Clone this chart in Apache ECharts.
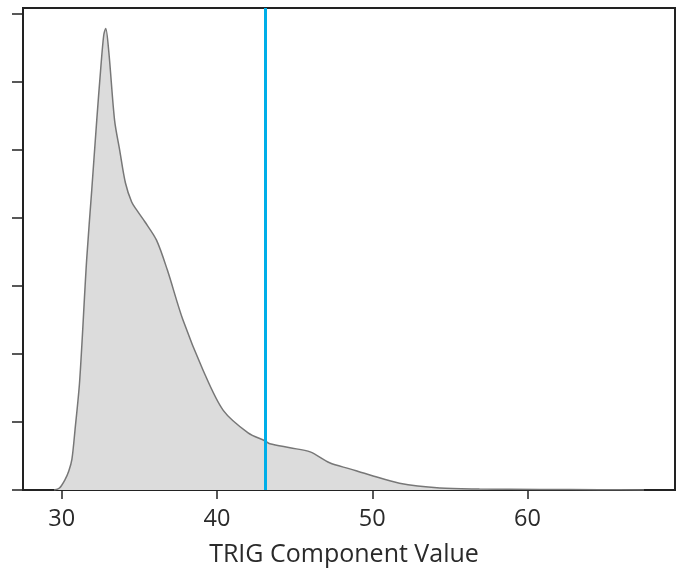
<!DOCTYPE html>
<html>
<head>
<meta charset="utf-8">
<script src="https://cdn.jsdelivr.net/npm/echarts@6/dist/echarts.min.js"></script>
<style>
html,body{margin:0;padding:0;background:#fff;}
#chart{width:696px;height:573px;}
</style>
</head>
<body>
<div id="chart"></div>
<script>
// TRIG component value (x) and density (relative, y)
const xValues = [29.5, 29.85, 30.2, 30.45, 30.65, 30.85, 31.15, 31.6, 31.93, 32.25, 32.5, 32.7, 32.83, 33.03, 33.4, 33.73, 34.1, 34.5, 34.83, 35.35, 36.1, 36.8, 37.8, 39.1, 40.4, 42.0, 43.1, 43.4, 44.7, 46.0, 47.25, 48.55, 49.85, 51.75, 54.35, 56.9, 60.8, 64.6, 67.5];
const densityValues = [0, 0.03, 0.15, 0.28, 0.45, 0.88, 1.6, 3.38, 4.41, 5.43, 6.17, 6.68, 6.78, 6.43, 5.43, 4.99, 4.51, 4.23, 4.11, 3.94, 3.67, 3.23, 2.5, 1.76, 1.17, 0.84, 0.72, 0.68, 0.62, 0.56, 0.4, 0.31, 0.22, 0.1, 0.03, 0.015, 0.008, 0.004, 0];
const xTickValues = [30, 40, 50, 60];
const yTickValues = [0, 1, 2, 3, 4, 5, 6, 7];
const thresholdValue = 43.1;
const xAxisTitle = 'TRIG Component Value';

const chart = echarts.init(document.getElementById('chart'), null, {renderer: 'canvas'});
const seriesData = xValues.map((x, i) => [x, densityValues[i]]);
const font = '"Open Sans", "Noto Sans", sans-serif';

chart.setOption({
  animation: false,
  backgroundColor: '#fff',
  grid: {left: 23, top: 8, right: 21, bottom: 83, show: true, borderColor: '#222', borderWidth: 2, backgroundColor: 'transparent'},
  xAxis: {
    type: 'value', min: 27.5, max: 69.5,
    axisLine: {show: true, onZero: false, lineStyle: {color: '#222', width: 2}},
    axisTick: {show: true, length: 9, customValues: xTickValues, lineStyle: {color: '#222', width: 1.5}},
    axisLabel: {show: true, customValues: xTickValues, margin: 17, fontSize: 23.5, color: '#2a2a2a', fontFamily: font},
    splitLine: {show: false},
    name: xAxisTitle, nameLocation: 'middle', nameGap: 52,
    nameTextStyle: {fontSize: 25, color: '#2a2a2a', fontFamily: font, padding: [0, 10, 0, 0]}
  },
  yAxis: {
    type: 'value', min: 0, max: 7.08,
    axisLine: {show: true, lineStyle: {color: '#222', width: 2}},
    axisTick: {show: true, length: 11, customValues: yTickValues, lineStyle: {color: '#222', width: 1.5}},
    axisLabel: {show: false},
    splitLine: {show: false}
  },
  series: [{
    type: 'line',
    data: seriesData,
    smooth: 0.3,
    showSymbol: false,
    lineStyle: {color: '#777', width: 1.5},
    areaStyle: {color: '#dcdcdc', opacity: 1},
    markLine: {
      silent: true, symbol: ['none', 'none'],
      label: {show: false},
      lineStyle: {color: '#00aee8', width: 3, type: 'solid'},
      data: [{xAxis: thresholdValue}]
    }
  }]
});
</script>
</body>
</html>
